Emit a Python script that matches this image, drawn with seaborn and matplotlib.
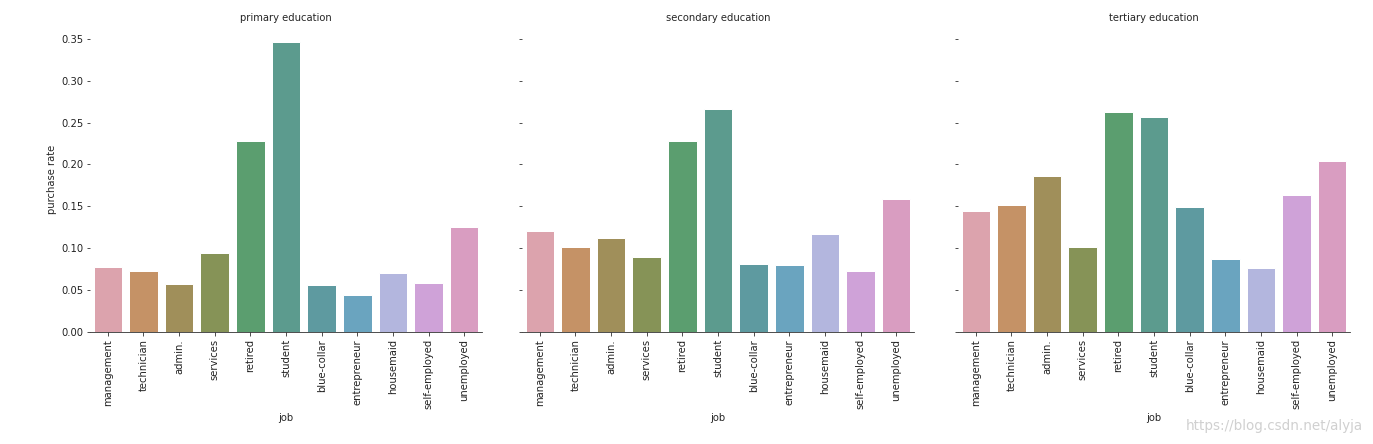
import numpy as np
import pandas as pd
import seaborn as sns
import matplotlib
matplotlib.use("Agg")
import matplotlib.pyplot as plt

jobs = ["management", "technician", "admin.", "services", "retired", "student",
        "blue-collar", "entrepreneur", "housemaid", "self-employed", "unemployed"]
educations = ["primary", "secondary", "tertiary"]

primary_rate = [0.077, 0.073, 0.057, 0.094, 0.228, 0.346, 0.056, 0.044, 0.071, 0.059, 0.125]
secondary_rate = [0.120, 0.102, 0.112, 0.089, 0.228, 0.266, 0.081, 0.080, 0.117, 0.073, 0.159]
tertiary_rate = [0.144, 0.151, 0.186, 0.101, 0.263, 0.257, 0.149, 0.087, 0.076, 0.163, 0.204]

bar_colors = ["#dca3ad", "#c59266", "#a08f5a", "#869357", "#5b9e6f", "#5c9b8e",
              "#5e9aa0", "#6aa4bf", "#b3b6de", "#cfa2d8", "#d99dc1"]

rows = []
for edu, rates in zip(educations, [primary_rate, secondary_rate, tertiary_rate]):
    for j, r in zip(jobs, rates):
        rows.append({"education": edu, "job": j, "purchase rate": r})
df = pd.DataFrame(rows)

sns.set_style("ticks")
plt.rcParams["font.family"] = ["DejaVu Sans"]
plt.rcParams["font.size"] = 10

g = sns.catplot(data=df, x="job", y="purchase rate", col="education", kind="bar",
                hue="job", palette=bar_colors, legend=False,
                order=jobs, hue_order=jobs, errorbar=None, saturation=1,
                height=6.17, aspect=1.03, sharey=True)
fig = g.figure
fig.set_size_inches(1373 / 72, 444 / 72)
fig.set_dpi(72)

g.set_titles("{col_name} education", size=10)
g.set_axis_labels("job", "purchase rate", size=10)
g.set(ylim=(0, 0.364))
g.set(yticks=[0, 0.05, 0.10, 0.15, 0.20, 0.25, 0.30, 0.35])
for ax in g.axes.flat:
    ax.set_xticks(range(len(jobs)))
    ax.set_xticklabels(jobs, rotation=90, fontsize=10)
    ax.tick_params(axis="y", labelsize=10, length=3, labelcolor="#222222")
    ax.tick_params(axis="x", length=3.5, labelcolor="#222222")
    for p in ax.patches:
        p.set_edgecolor("white")
        p.set_linewidth(1)
g.axes.flat[0].set_yticklabels(["0.00", "0.05", "0.10", "0.15", "0.20", "0.25", "0.30", "0.35"])
sns.despine(fig=fig, left=True)

lefts = [90, 522, 958]
width = 392
for ax, l in zip(g.axes.flat, lefts):
    ax.set_position([l / 1373, 1 - 332 / 444, width / 1373, (332 - 27) / 444])

fig.text(1363 / 1373, 1 - 426 / 444, "https://blog.csdn.net/alyja", ha="right", va="center",
         fontsize=13.5, color="#d0d0d0")

fig.savefig("out.png", dpi=72)
